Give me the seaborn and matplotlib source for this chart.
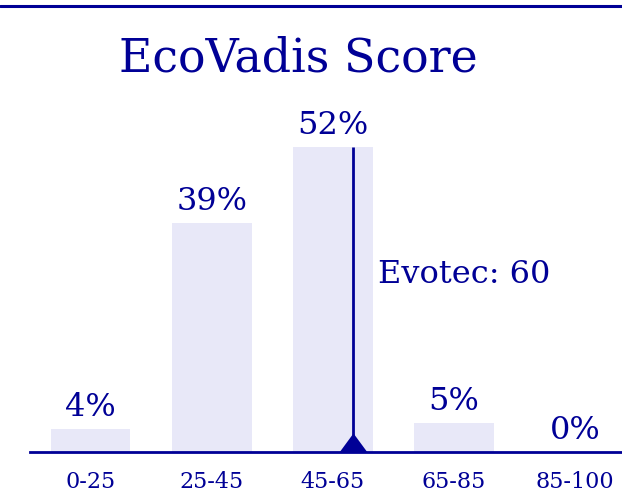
import matplotlib
matplotlib.use("Agg")
import matplotlib.pyplot as plt
import numpy as np
import pandas as pd
import seaborn as sns
from matplotlib.lines import Line2D

# data
bins = ["0-25", "25-45", "45-65", "65-85", "85-100"]
bin_lo = [0, 25, 45, 65, 85]
bin_hi = [25, 45, 65, 85, 100]
shares = [4, 39, 52, 5, 0]
company = "Evotec"
company_score = 60

NAVY = "#000096"
BAR = "#E8E8F8"
BAR_W = 0.66

sns.set_theme(style="white")
plt.rcParams["font.family"] = ["DejaVu Serif"]

df = pd.DataFrame({"bin": bins, "share": shares})

fig = plt.figure(figsize=(6.22, 5.02), dpi=100)
ax = fig.add_axes([0.0482, 0.0976, 0.9735, 0.701])

sns.barplot(data=df, x="bin", y="share", color=BAR, width=BAR_W,
            saturation=1, linewidth=0, ax=ax)
ax.set_xlim(-0.5, 4.5)
ax.set_ylim(0, 60)

for c in ax.containers:
    ax.bar_label(c, labels=[f"{v}%" for v in shares], padding=5,
                 color=NAVY, fontsize=23)

# where the company sits inside its bin
i = next(k for k in range(len(bins)) if bin_lo[k] <= company_score < bin_hi[k])
frac = (company_score - bin_lo[i]) / (bin_hi[i] - bin_lo[i])
xpos = i - BAR_W / 2 + frac * BAR_W
ax.plot([xpos, xpos], [0, shares[i]], color=NAVY, lw=2, solid_capstyle="butt")
tri = [(-1, 0), (1, 0), (0, 1.36), (-1, 0)]
ax.plot([xpos], [0], marker=tri, markersize=27.5, color=NAVY,
        markeredgewidth=0, clip_on=False)
ax.text(xpos + 0.21, 29, f"{company}: {company_score}", color=NAVY,
        fontsize=23, ha="left", va="baseline")

sns.despine(ax=ax, left=True)
ax.spines["bottom"].set_color(NAVY)
ax.spines["bottom"].set_linewidth(2)
ax.set_yticks([])
ax.set_xlabel("")
ax.set_ylabel("")
ax.tick_params(axis="x", length=0, pad=13, labelsize=16, labelcolor=NAVY)

fig.text(0.479, 1 - 72 / 502, "EcoVadis Score", ha="center",
         va="baseline", color=NAVY, fontsize=33)
fig.add_artist(Line2D([0, 1], [0.986, 0.986], transform=fig.transFigure,
                      color=NAVY, lw=2.2))

fig.savefig("out.png", dpi=100)
